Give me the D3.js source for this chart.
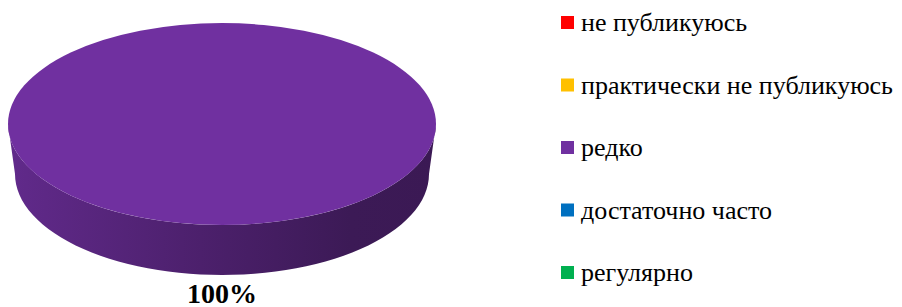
<!DOCTYPE html>
<meta charset="utf-8">
<html>
<style>
  body { margin: 0; background: #fff; }
</style>
<body>
<script src="https://d3js.org/d3.v7.min.js"></script>
<script>
// data
var categories = ["не публикуюсь", "практически не публикуюсь", "редко", "достаточно часто", "регулярно"];
var values = [0, 0, 100, 0, 0];
var colors = ["#FF0000", "#FFC000", "#7030A0", "#0070C0", "#00B050"];

var W = 902, H = 307;
var svg = d3.select("body").append("svg").attr("width", W).attr("height", H);

// pie geometry (3d look: top ellipse + side wall)
var cx = 222, cy = 124, rx = 214, ry = 101, depth = 50;
var brx = 207; // bottom a bit narrower, perspective

var pie = d3.pie().sort(null).value(function (d) { return d; });
var arcs = pie(values);

var defs = svg.append("defs");

function sidePath() {
  // top left -> down to bottom ellipse, around lower half, up to top right, back along top lower half
  var p = d3.path();
  p.moveTo(cx - rx, cy);
  p.lineTo(cx - brx, cy + depth);
  var n = 60, i, t;
  for (i = 0; i <= n; i++) {
    t = Math.PI - Math.PI * i / n;
    p.lineTo(cx + brx * Math.cos(t), cy + depth + ry * Math.sin(t));
  }
  p.lineTo(cx + rx, cy);
  for (i = 0; i <= n; i++) {
    t = Math.PI * i / n;
    p.lineTo(cx + rx * Math.cos(t), cy + ry * Math.sin(t));
  }
  p.closePath();
  return p.toString();
}

arcs.forEach(function (a, k) {
  if (a.value <= 0) return;
  var base = d3.color(colors[k]);
  var g = defs.append("linearGradient").attr("id", "side" + k)
    .attr("x1", "0%").attr("x2", "100%").attr("y1", "0%").attr("y2", "0%");
  g.append("stop").attr("offset", "0%").attr("stop-color", d3.rgb(base).darker(0.4));
  g.append("stop").attr("offset", "45%").attr("stop-color", d3.rgb(base).darker(1.1));
  g.append("stop").attr("offset", "80%").attr("stop-color", d3.rgb(base).darker(1.75));
  g.append("stop").attr("offset", "100%").attr("stop-color", d3.rgb(base).darker(1.8));

  var full = a.endAngle - a.startAngle >= 2 * Math.PI - 1e-6;
  if (full) {
    svg.append("path").attr("d", sidePath()).attr("fill", "url(#side" + k + ")");
    svg.append("ellipse").attr("cx", cx).attr("cy", cy).attr("rx", rx).attr("ry", ry)
      .attr("fill", colors[k]);
  }

  // percent label under the pie
  var mid = (a.startAngle + a.endAngle) / 2;
  var lx = full ? cx : cx + rx * 0.6 * Math.sin(mid);
  var ly = full ? 303 : cy - ry * 0.6 * Math.cos(mid);
  svg.append("text").attr("x", lx).attr("y", ly)
    .attr("text-anchor", "middle")
    .style("font-family", "'Liberation Serif', serif")
    .style("font-weight", "bold").style("font-size", "28px")
    .text(Math.round(a.value / d3.sum(values) * 100) + "%");
});

// legend
var legend = svg.append("g").selectAll("g").data(categories).enter().append("g")
  .attr("transform", function (d, i) { return "translate(561," + (16 + i * 62.5) + ")"; });
legend.append("rect").attr("width", 13).attr("height", 13)
  .attr("fill", function (d, i) { return colors[i]; });
legend.append("text").attr("x", 20).attr("y", 15)
  .style("font-family", "'Liberation Serif', serif")
  .style("font-size", "26px")
  .text(function (d) { return d; });
</script>
</body>
</html>
